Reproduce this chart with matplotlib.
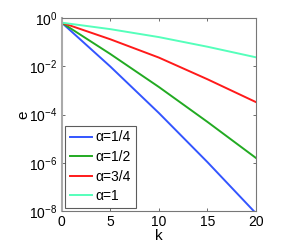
import numpy as np
import matplotlib
matplotlib.use("Agg")
import matplotlib.pyplot as plt

plt.rcParams['font.family'] = ['Liberation Sans', 'DejaVu Sans']
plt.rcParams['mathtext.fontset'] = 'custom'
plt.rcParams['mathtext.rm'] = 'Liberation Sans'
plt.rcParams['mathtext.it'] = 'Liberation Sans'

# data: error e at iteration k, as log10 values
k = [0, 5, 10, 15, 20]
log_e_quarter = [-0.18, -2.00, -3.93, -5.97, -8.10]
log_e_half = [-0.18, -1.48, -2.85, -4.30, -5.80]
log_e_three_q = [-0.18, -0.87, -1.63, -2.53, -3.48]
log_e_one = [-0.18, -0.45, -0.78, -1.18, -1.62]

labels = ['α=1/4', 'α=1/2', 'α=3/4', 'α=1']
colors = ['#3355ff', '#22aa22', '#ff1a1a', '#55ffbb']

xticks = [0, 5, 10, 15, 20]
yticks = [1e0, 1e-2, 1e-4, 1e-6, 1e-8]
ytick_labels = [r'$10^{0}$', r'$10^{-2}$', r'$10^{-4}$', r'$10^{-6}$', r'$10^{-8}$']

fig = plt.figure(figsize=(2.95, 2.44), dpi=100)
ax = fig.add_axes([0.209, 0.135, 0.659, 0.79])

series = [log_e_quarter, log_e_half, log_e_three_q, log_e_one]
for s, lab, c in zip(series, labels, colors):
    ax.semilogy(k, 10 ** np.array(s), color=c, lw=1.4, label=lab)

ax.set_xlim(0, 20)
ax.set_ylim(1e-8, 1e0)
ax.set_xticks(xticks)
ax.set_yticks(yticks)
ax.set_yticklabels(ytick_labels)
ax.yaxis.set_minor_locator(matplotlib.ticker.NullLocator())
ax.tick_params(direction='in', top=True, right=True, length=2.5, width=0.6,
               colors='#555555', labelcolor='black', labelsize=10, pad=3)
for sp in ax.spines.values():
    sp.set_color('#777777')
    sp.set_linewidth(0.8)
ax.spines['left'].set_color('#aaaaaa')
ax.spines['left'].set_linewidth(1.5)

ax.set_xlabel('k', fontsize=11, labelpad=0)
ax.set_ylabel('e', fontsize=11, labelpad=-1)

leg = ax.legend(loc='lower left', bbox_to_anchor=(0.017, 0.016), borderaxespad=0,
                fontsize=10, frameon=True, fancybox=False, handlelength=1.6,
                handletextpad=0.25, labelspacing=0.4, borderpad=0.35)
leg.get_frame().set_edgecolor('#333333')
leg.get_frame().set_linewidth(0.8)

fig.savefig('out.png', dpi=100)
